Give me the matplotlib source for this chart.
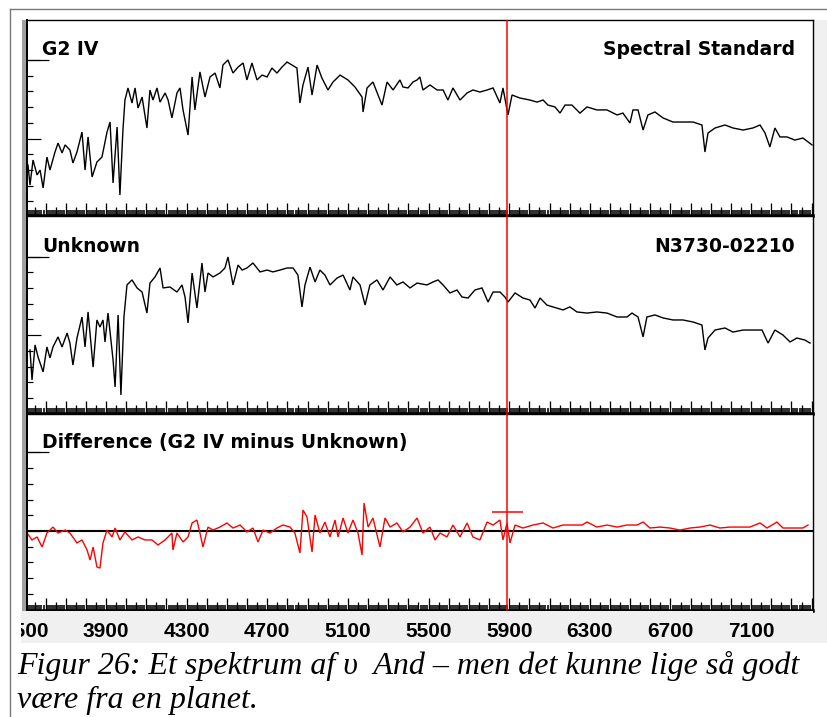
import matplotlib
matplotlib.use("Agg")
import matplotlib.pyplot as plt
from matplotlib.lines import Line2D
from matplotlib.patches import Rectangle
import numpy as np

# ---------------- data ----------------
std_spectrum = [
    (3513, 3.31), (3523, 2.04), (3538, 3.63), (3558, 2.68), (3573, 2.99), (3588, 1.85),
    (3607, 3.82), (3622, 2.99), (3647, 4.14), (3662, 4.71), (3682, 4.08), (3697, 4.59),
    (3721, 4.27), (3736, 3.44), (3756, 4.14), (3781, 5.41), (3796, 2.99), (3811, 5.10),
    (3831, 2.55), (3855, 3.50), (3880, 3.82), (3905, 5.41), (3920, 6.05), (3935, 2.17),
    (3955, 5.73), (3969, 1.40), (3984, 5.54), (3994, 7.45), (4009, 8.22), (4029, 7.26),
    (4044, 8.22), (4059, 6.94), (4079, 7.64), (4103, 5.67), (4118, 8.09), (4133, 7.45),
    (4153, 8.22), (4168, 7.32), (4193, 7.90), (4208, 7.45), (4227, 6.31), (4252, 7.90),
    (4267, 8.22), (4282, 6.82), (4307, 5.22), (4327, 8.92), (4341, 6.82), (4366, 9.24),
    (4391, 7.64), (4416, 8.92), (4441, 9.17), (4465, 8.22), (4480, 9.68), (4505, 10.00),
    (4530, 9.17), (4555, 9.55), (4580, 9.81), (4599, 8.73), (4624, 9.81), (4649, 8.73),
    (4674, 9.04), (4699, 8.92), (4723, 9.49), (4748, 9.17), (4773, 9.55), (4798, 9.87),
    (4823, 9.68), (4847, 9.49), (4862, 7.26), (4877, 8.41), (4902, 9.55), (4922, 7.77),
    (4947, 9.68), (4971, 8.85), (5001, 8.09), (5026, 8.60), (5061, 9.04), (5100, 8.73),
    (5135, 8.28), (5170, 7.64), (5175, 6.69), (5195, 8.22), (5224, 8.60), (5269, 7.13),
    (5294, 8.60), (5324, 8.09), (5358, 8.73), (5373, 8.28), (5398, 8.22), (5423, 8.60),
    (5443, 8.73), (5457, 8.92), (5472, 8.09), (5507, 8.41), (5542, 8.09), (5572, 8.09),
    (5596, 7.45), (5621, 8.22), (5656, 7.45), (5691, 7.90), (5720, 8.09), (5755, 7.96),
    (5790, 8.09), (5820, 8.22), (5854, 7.26), (5869, 8.22), (5894, 6.50), (5914, 7.77),
    (5953, 7.58), (6003, 7.45), (6038, 7.32), (6068, 7.45), (6092, 7.13), (6127, 7.01),
    (6152, 6.62), (6177, 7.13), (6211, 7.13), (6251, 6.62), (6286, 7.01), (6335, 6.82),
    (6385, 6.82), (6435, 6.50), (6464, 6.62), (6499, 5.99), (6514, 6.82), (6539, 6.82),
    (6564, 5.54), (6588, 6.50), (6623, 6.69), (6663, 6.31), (6712, 6.05), (6762, 6.05),
    (6812, 6.05), (6856, 5.86), (6871, 4.14), (6886, 5.35), (6921, 5.67), (6970, 5.86),
    (7010, 5.67), (7060, 5.54), (7109, 5.67), (7144, 5.86), (7169, 5.35), (7193, 4.46),
    (7218, 5.67), (7243, 5.10), (7278, 5.10), (7317, 4.90), (7357, 5.03), (7402, 4.59),
]

unknown_spectrum = [
    (3523, 4.06), (3533, 2.15), (3548, 4.38), (3563, 3.61), (3588, 2.66), (3607, 4.25),
    (3622, 3.55), (3637, 4.25), (3662, 4.89), (3682, 4.25), (3707, 5.14), (3721, 4.50),
    (3736, 3.10), (3756, 4.82), (3781, 6.16), (3796, 4.25), (3811, 6.48), (3836, 2.97),
    (3855, 5.97), (3870, 5.52), (3885, 5.97), (3895, 4.57), (3910, 6.41), (3935, 3.42),
    (3945, 1.70), (3960, 6.29), (3974, 1.19), (3989, 6.16), (4004, 8.20), (4029, 8.52),
    (4054, 8.01), (4079, 7.75), (4103, 6.41), (4118, 8.32), (4143, 8.71), (4168, 9.28),
    (4183, 8.01), (4217, 8.07), (4252, 7.75), (4277, 8.20), (4292, 7.43), (4307, 5.78),
    (4327, 8.96), (4351, 6.73), (4376, 9.60), (4391, 7.75), (4406, 8.96), (4431, 8.71),
    (4465, 8.96), (4490, 9.28), (4505, 9.98), (4530, 8.20), (4555, 9.47), (4575, 9.15),
    (4599, 9.28), (4629, 9.60), (4664, 9.03), (4699, 9.15), (4728, 9.03), (4763, 9.15),
    (4798, 9.28), (4828, 9.28), (4852, 8.83), (4872, 6.80), (4887, 8.20), (4912, 9.34),
    (4937, 8.39), (4961, 9.15), (4986, 8.83), (5011, 8.20), (5046, 8.64), (5076, 8.83),
    (5110, 7.88), (5125, 8.71), (5160, 8.20), (5185, 6.92), (5209, 8.20), (5244, 8.52),
    (5274, 7.88), (5309, 8.71), (5343, 8.20), (5373, 8.39), (5408, 8.01), (5443, 8.32),
    (5492, 8.20), (5522, 8.39), (5547, 8.52), (5572, 8.20), (5606, 7.69), (5641, 7.88),
    (5666, 7.43), (5696, 7.37), (5730, 7.88), (5765, 8.01), (5795, 7.11), (5820, 7.75),
    (5854, 7.75), (5879, 7.43), (5894, 7.11), (5929, 7.69), (5968, 7.37), (6003, 7.24),
    (6028, 6.73), (6053, 7.37), (6087, 6.92), (6117, 6.80), (6167, 6.61), (6201, 6.80),
    (6236, 6.48), (6286, 6.41), (6335, 6.48), (6385, 6.41), (6435, 6.16), (6484, 6.16),
    (6509, 6.41), (6539, 6.16), (6564, 4.89), (6583, 6.16), (6623, 6.29), (6663, 6.10),
    (6712, 5.97), (6762, 5.97), (6812, 5.84), (6856, 5.65), (6871, 4.06), (6886, 4.82),
    (6921, 5.33), (6970, 5.46), (7010, 5.20), (7060, 5.33), (7109, 5.33), (7154, 5.33),
    (7184, 4.50), (7218, 5.33), (7258, 5.01), (7293, 4.57), (7327, 4.82), (7367, 4.69),
    (7392, 4.50),
]

difference = [
    (3508, -0.13), (3533, -0.57), (3558, -0.38), (3583, -1.02), (3607, -0.13), (3637, 0.25),
    (3662, -0.13), (3697, 0.06), (3721, -0.13), (3756, -0.76), (3781, -0.57), (3806, -1.21),
    (3821, -1.85), (3836, -1.02), (3855, -2.29), (3870, -2.36), (3885, -0.76), (3905, 0.06),
    (3930, -0.38), (3945, 0.19), (3969, -0.57), (3994, -0.06), (4029, -0.57), (4059, -0.38),
    (4093, -0.57), (4128, -0.57), (4158, -0.89), (4193, -0.57), (4227, -0.13), (4232, -1.21),
    (4252, -0.13), (4282, -0.70), (4307, -0.38), (4327, 0.51), (4351, 0.70), (4366, -0.13),
    (4381, -1.02), (4406, 0.25), (4431, 0.06), (4465, 0.25), (4500, 0.51), (4530, 0.19),
    (4565, 0.38), (4599, -0.06), (4629, 0.19), (4654, -0.70), (4679, 0.06), (4713, -0.13),
    (4748, 0.19), (4778, 0.38), (4813, 0.25), (4837, -0.13), (4862, -1.40), (4877, 1.34),
    (4897, 0.89), (4922, -1.34), (4937, 1.02), (4961, -0.13), (4986, 0.57), (5011, -0.38),
    (5036, 0.70), (5051, -0.38), (5076, 0.83), (5100, -0.13), (5125, 0.70), (5150, -0.13),
    (5170, -1.53), (5180, 1.78), (5200, 0.25), (5224, 0.83), (5259, -1.02), (5284, 0.83),
    (5309, 0.25), (5343, 0.51), (5373, -0.06), (5408, 0.25), (5443, 0.83), (5472, -0.13),
    (5507, 0.25), (5532, -0.57), (5557, -0.13), (5591, -0.38), (5621, 0.38), (5656, -0.38),
    (5691, 0.51), (5720, -0.38), (5755, -0.57), (5790, 0.57), (5820, 0.38), (5854, 0.70),
    (5869, -0.57), (5889, 0.51), (5904, -0.76), (5929, 0.38), (5968, 0.19), (6018, 0.38),
    (6068, 0.51), (6117, 0.19), (6167, 0.38), (6216, 0.38), (6261, 0.38), (6286, 0.57),
    (6335, 0.25), (6385, 0.38), (6435, 0.25), (6484, 0.38), (6534, 0.38), (6564, 0.57),
    (6598, 0.19), (6648, 0.25), (6697, 0.19), (6747, 0.06), (6797, 0.19), (6846, 0.25),
    (6896, 0.38), (6945, 0.19), (6995, 0.25), (7045, 0.25), (7094, 0.25), (7144, 0.51),
    (7179, 0.19), (7228, 0.57), (7258, 0.19), (7308, 0.19), (7357, 0.19), (7382, 0.38),
]

tick_labels = [3500, 3900, 4300, 4700, 5100, 5500, 5900, 6300, 6700, 7100]
cursor_wavelength = 5890
cursor_marker_level = 1.21
titles_left = ["G2 IV", "Unknown", "Difference (G2 IV minus Unknown)"]
titles_right = ["Spectral Standard", "N3730-02210", ""]
caption_lines = ["Figur 26: Et spektrum af \u03c5  And \u2013 men det kunne lige s\u00e5 godt",
                 "v\u00e6re fra en planet."]

# ---------------- layout ----------------
W, H = 828, 717
fig = plt.figure(figsize=(W / 100, H / 100), dpi=100)
fig.patch.set_facecolor("white")

def box(x0, y0, x1, y1):
    return [x0 / W, 1 - y1 / H, (x1 - x0) / W, (y1 - y0) / H]

def fline(xs, ys, **kw):
    fig.add_artist(Line2D([x / W for x in xs], [1 - y / H for y in ys],
                          transform=fig.transFigure, **kw))

def frect(x0, y0, x1, y1, **kw):
    fig.add_artist(Rectangle((x0 / W, 1 - y1 / H), (x1 - x0) / W, (y1 - y0) / H,
                             transform=fig.transFigure, **kw))

XMIN, XMAX = 3508.1, 7406.9
PT = 0.72  # points per pixel

# window chrome
frect(813, 20, 828, 643, facecolor="#f0f0f0", edgecolor="none", zorder=0)
fline([10, 828], [9, 9], color="#7a7a7a", lw=1.0)
fline([10, 10], [9, 717], color="#7a7a7a", lw=1.0)
frect(22.5, 20, 26, 611, facecolor="#a0a0a0", edgecolor="none", zorder=5)

panels = [
    dict(rect=(27, 20, 813, 216), ylim=(0.064, 12.548), minor=[1, 2, 3, 4, 6, 7, 8, 9], major=[5, 10], top=10),
    dict(rect=(27, 216, 813, 414), ylim=(-0.019, 12.592), minor=[1, 2, 3, 4, 6, 7, 8, 9], major=[5, 10], top=10),
    dict(rect=(27, 414, 813, 611), ylim=(-5.096, 7.452), minor=[-4, -3, -2, -1, 1, 2, 3, 4], major=[0, 5], top=5),
]
series = [std_spectrum, unknown_spectrum, difference]
colors = ["black", "black", "red"]
title_base = [0.821, 0.820, 0.826]

axes = []
for i, p in enumerate(panels):
    ax = fig.add_axes(box(*p["rect"]))
    axes.append(ax)
    ax.set_xlim(XMIN, XMAX)
    ax.set_ylim(*p["ylim"])
    for s in ("top", "right"):
        ax.spines[s].set_linewidth(1.4 * PT)
        ax.spines[s].set_color("black")
    ax.spines["left"].set_linewidth(2 * PT)
    ax.spines["bottom"].set_linewidth(3.5 * PT)
    # ruler on the x axis
    ax.set_xticks(np.arange(3600, 7401, 100))
    ax.set_xticks(np.arange(3510, 7401, 10), minor=True)
    ax.tick_params(axis="x", which="major", direction="in", length=13 * PT, width=1.3 * PT,
                   labelbottom=False, top=False)
    ax.tick_params(axis="x", which="minor", direction="in", length=6 * PT, width=1.6 * PT, top=False)
    sec = ax.secondary_xaxis("bottom")
    sec.set_xticks(np.arange(3550, 7401, 100))
    sec.tick_params(direction="in", length=9 * PT, width=1.3 * PT, labelbottom=False)
    sec.spines["bottom"].set_visible(False)
    # y ticks
    ax.set_yticks(p["major"])
    ax.set_yticks(p["minor"], minor=True)
    ax.tick_params(axis="y", which="major", direction="in", length=14 * PT, width=1.2 * PT,
                   labelleft=False, right=False)
    ax.tick_params(axis="y", which="minor", direction="in", length=6 * PT, width=1.2 * PT, right=False)
    secy = ax.secondary_yaxis("left")
    secy.set_yticks([p["top"]])
    secy.tick_params(direction="in", length=22 * PT, width=1.2 * PT, labelleft=False)
    secy.spines["left"].set_visible(False)

    wl, val = zip(*series[i])
    ax.plot(wl, val, color=colors[i], lw=1.0, solid_joinstyle="miter")
    ax.axvline(cursor_wavelength, color="red", lw=1.1, zorder=4)

    ax.text((42 - 27) / 786, title_base[i], titles_left[i], transform=ax.transAxes,
            ha="left", va="baseline", fontsize=13.5, fontweight="bold", family="DejaVu Sans")
    if titles_right[i]:
        ax.text((795 - 27) / 786, title_base[i], titles_right[i], transform=ax.transAxes,
                ha="right", va="baseline", fontsize=13.5, fontweight="bold", family="DejaVu Sans")

# difference panel extras: zero line and cursor marker
axes[2].axhline(0, color="black", lw=1.5 * PT * 1.4, zorder=1)
axes[2].hlines(cursor_marker_level, cursor_wavelength - 77, cursor_wavelength + 77,
               color="red", lw=1.1, zorder=4)

# tick-label strip
lab = fig.add_axes(box(21, 611, 813, 643))
lab.set_xlim(3900 + (21 - 106) * 4.9603, XMAX)
lab.set_ylim(0, 1)
lab.axis("off")
lab.add_patch(Rectangle((0, 0), 1, 1, transform=lab.transAxes, facecolor="#f0f0f0",
                        edgecolor="none", zorder=0))
for t in tick_labels:
    lab.text(t, 0.19, str(t), ha="center", va="baseline", fontsize=15, fontweight="bold",
             family="Liberation Sans", clip_on=True)

# caption
fig.text(17 / W, 1 - 674 / H, caption_lines[0], ha="left", va="baseline", fontsize=23.0,
         family="Liberation Serif", style="italic")
fig.text(17 / W, 1 - 708 / H, caption_lines[1], ha="left", va="baseline", fontsize=23.0,
         family="Liberation Serif", style="italic")

fig.savefig("out.png", dpi=100, facecolor="white")
